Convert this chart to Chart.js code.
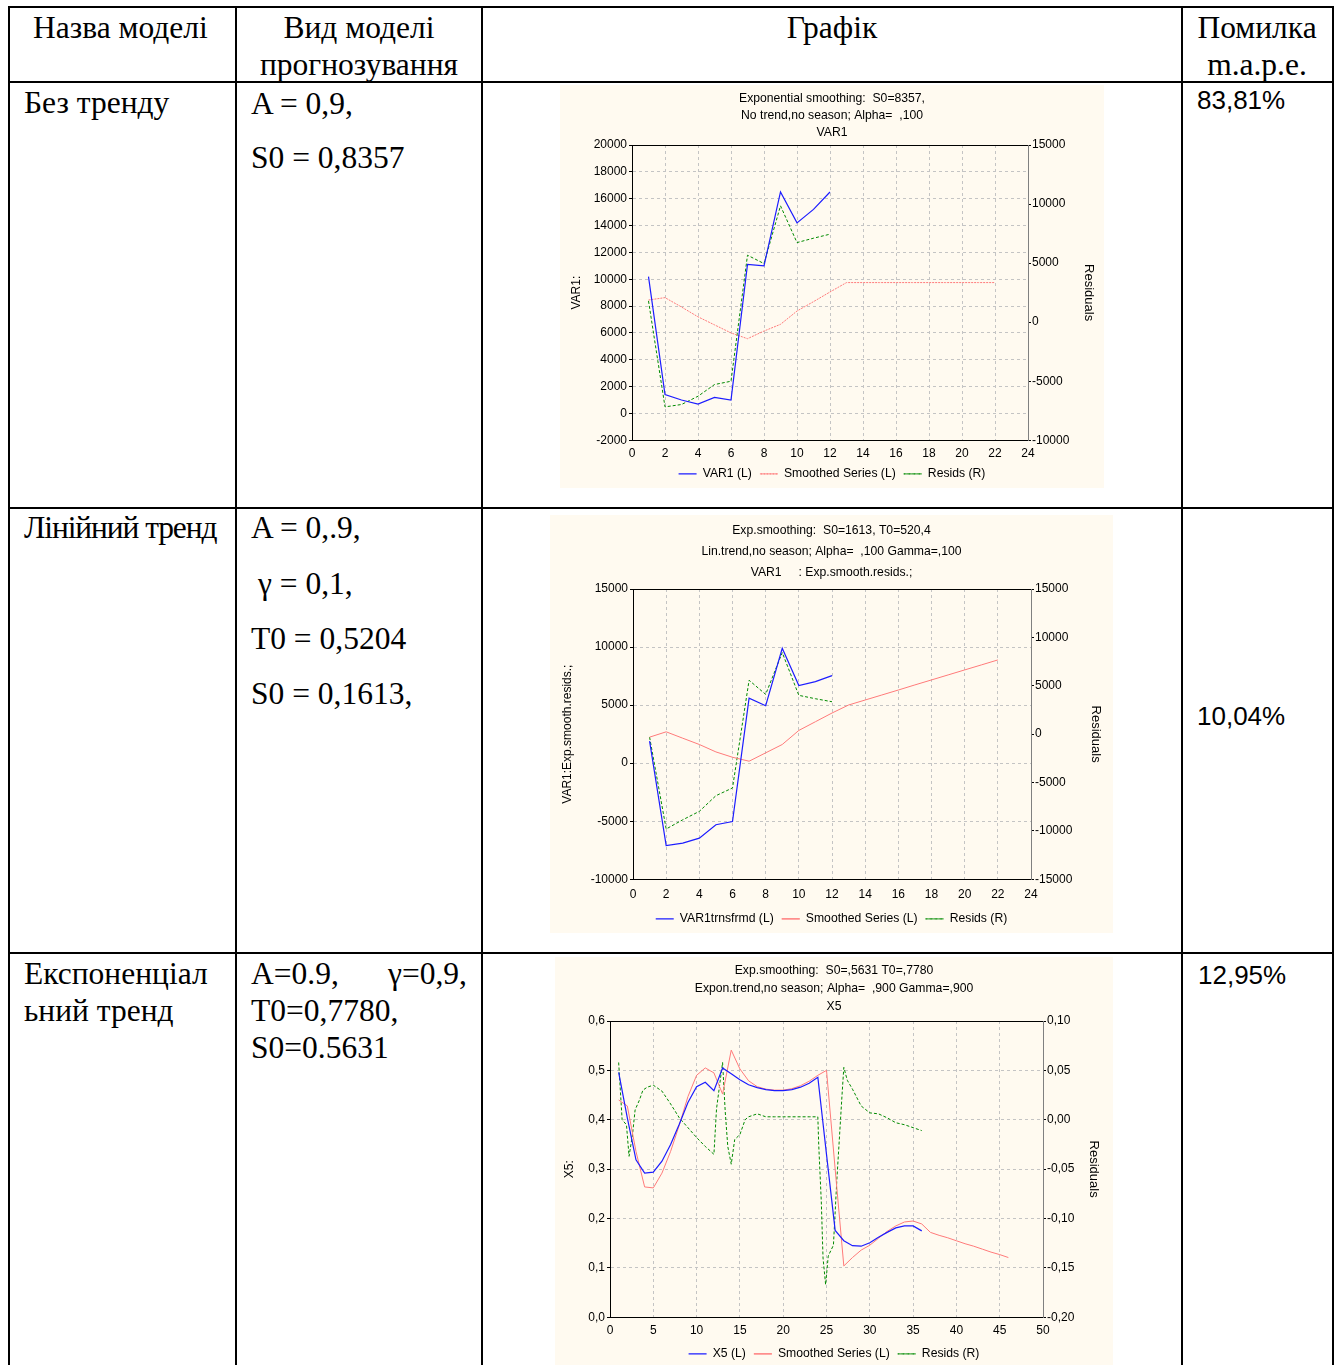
<!DOCTYPE html>
<html>
<head>
<meta charset="utf-8">
<script src="https://cdn.jsdelivr.net/npm/chart.js@4.4.1/dist/chart.umd.min.js"></script>
<style>
  html, body { margin: 0; padding: 0; background: #fff; }
  body { width: 1340px; height: 1365px; position: relative; overflow: hidden; }
  .ln { position: absolute; background: #000; }
  .t { position: absolute; font-family: "Liberation Serif", "Times New Roman", serif; font-size: 31.5px; line-height: 1; white-space: pre; color: #000; }
  .c { transform: translateX(-50%); }
  .p { position: absolute; font-family: "Liberation Sans", Arial, sans-serif; font-size: 26px; line-height: 1; color: #000; }
  .panel { position: absolute; background: #fffaf0; }
  .panel canvas { display: block; }
</style>
</head>
<body>
<!-- table grid -->
<div class="ln" style="left:8px;top:6px;width:1326px;height:2px"></div>
<div class="ln" style="left:8px;top:81px;width:1326px;height:2px"></div>
<div class="ln" style="left:8px;top:507px;width:1326px;height:2px"></div>
<div class="ln" style="left:8px;top:952px;width:1326px;height:2px"></div>
<div class="ln" style="left:8px;top:6px;width:2px;height:1370px"></div>
<div class="ln" style="left:235px;top:6px;width:2px;height:1370px"></div>
<div class="ln" style="left:481px;top:6px;width:2px;height:1370px"></div>
<div class="ln" style="left:1181px;top:6px;width:2px;height:1370px"></div>
<div class="ln" style="left:1332px;top:6px;width:2px;height:1370px"></div>

<!-- header -->
<div class="t" style="left:33px;top:11.6px">Назва моделі</div>
<div class="t c" style="left:359px;top:11.6px">Вид моделі</div>
<div class="t c" style="left:359px;top:48.6px">прогнозування</div>
<div class="t c" style="left:832px;top:11.6px">Графік</div>
<div class="t c" style="left:1257px;top:11.6px">Помилка</div>
<div class="t c" style="left:1257px;top:48.6px">m.a.p.e.</div>

<!-- row 1 -->
<div class="t" style="left:24px;top:86.6px">Без тренду</div>
<div class="t" style="left:251px;top:87.6px">A = 0,9,</div>
<div class="t" style="left:251px;top:141.6px">S0 = 0,8357</div>
<div class="p" style="left:1197px;top:87px">83,81%</div>

<!-- row 2 -->
<div class="t" style="left:24px;top:511.6px;letter-spacing:-1.1px">Лінійний тренд</div>
<div class="t" style="left:251px;top:511.6px">A = 0,.9,</div>
<div class="t" style="left:258px;top:567.6px">γ = 0,1,</div>
<div class="t" style="left:251px;top:622.6px">T0 = 0,5204</div>
<div class="t" style="left:251px;top:677.6px">S0 = 0,1613,</div>
<div class="p" style="left:1197px;top:703px">10,04%</div>

<!-- row 3 -->
<div class="t" style="left:24px;top:957.6px">Експоненціал</div>
<div class="t" style="left:24px;top:994.6px">ьний тренд</div>
<div class="t" style="left:251px;top:957.6px">A=0.9,</div>
<div class="t" style="left:388px;top:957.6px">γ=0,9,</div>
<div class="t" style="left:251px;top:994.6px">T0=0,7780,</div>
<div class="t" style="left:251px;top:1031.6px">S0=0.5631</div>
<div class="p" style="left:1198px;top:962px">12,95%</div>

<div class="panel" style="left:560px;top:85px;width:544px;height:403px"><canvas id="chart1" width="544" height="403"></canvas></div>
<div class="panel" style="left:550px;top:515px;width:563px;height:418px"><canvas id="chart2" width="563" height="418"></canvas></div>
<div class="panel" style="left:555px;top:957px;width:558px;height:411px"><canvas id="chart3" width="558" height="411"></canvas></div>

<script>
// ---- chart 1: no trend ----
const c1Steps = [1, 2, 3, 4, 5, 6, 7, 8, 9, 10, 11, 12];
const c1Var1 = [10200, 1400, 1000, 700, 1200, 1000, 11100, 11000, 16500, 14200, 15200, 16500];
const c1SmoothSteps = [1, 2, 3, 4, 5, 6, 7, 8, 9, 10, 11, 12, 13, 14, 15, 16, 17, 18, 19, 20, 21, 22];
const c1Smooth = [8450, 8630, 7930, 7200, 6600, 6000, 5570, 6140, 6640, 7630, 8330, 9050, 9750, 9750, 9750, 9750, 9750, 9750, 9750, 9750, 9750, 9750];
const c1Resid = [1800, -7170, -6970, -6270, -5280, -5000, 5670, 4960, 9850, 6740, 7110, 7450];

// ---- chart 2: linear trend ----
const c2Steps = [1, 2, 3, 4, 5, 6, 7, 8, 9, 10, 11, 12];
const c2Var1 = [1900, -7100, -6890, -6460, -5300, -5020, 5600, 4950, 9900, 6680, 7020, 7540];
const c2SmoothSteps = [1, 2, 3, 4, 5, 6, 7, 8, 9, 10, 11, 12, 13, 14, 15, 16, 17, 18, 19, 20, 21, 22];
const c2Smooth = [2240, 2700, 2150, 1610, 970, 510, 170, 890, 1610, 2820, 3570, 4320, 5010, 5440, 5870, 6300, 6740, 7170, 7600, 8030, 8460, 8890];
const c2Resid = [-310, -9800, -8850, -7980, -6360, -5560, 5570, 4110, 8430, 4010, 3660, 3350];

// ---- chart 3: exponential trend ----
const c3Steps = [1, 2, 3, 4, 5, 6, 7, 8, 9, 10, 11, 12, 13, 14, 15, 16, 17, 18, 19, 20, 21, 22, 23, 24, 25, 26, 27, 28, 29, 30, 31, 32, 33, 34, 35, 36];
const c3X5 = [0.496, 0.404, 0.319, 0.292, 0.294, 0.316, 0.350, 0.391, 0.435, 0.467, 0.476, 0.459, 0.505, 0.493, 0.481, 0.471, 0.465, 0.461, 0.459, 0.459, 0.461, 0.466, 0.474, 0.486, 0.330, 0.176, 0.155, 0.145, 0.144, 0.151, 0.162, 0.172, 0.181, 0.185, 0.185, 0.175];
const c3SmoothSteps = [1, 2, 3, 4, 5, 6, 7, 8, 9, 10, 11, 12, 13, 14, 15, 16, 17, 18, 19, 20, 21, 22, 23, 24, 25, 26, 27, 28, 29, 30, 31, 32, 33, 34, 35, 36, 37, 38, 39, 40, 41, 42, 43, 44, 45, 46];
const c3Smooth = [0.440, 0.428, 0.336, 0.264, 0.262, 0.292, 0.336, 0.389, 0.447, 0.490, 0.505, 0.495, 0.452, 0.541, 0.503, 0.479, 0.467, 0.462, 0.460, 0.460, 0.463, 0.469, 0.478, 0.490, 0.500, 0.300, 0.104, 0.121, 0.136, 0.146, 0.160, 0.174, 0.185, 0.193, 0.195, 0.189, 0.172, 0.166, 0.161, 0.155, 0.149, 0.144, 0.138, 0.132, 0.127, 0.121];
// the residual trace in the picture has its breaks between the steps, so its x positions are read too
const c3ResidSteps = [1, 1.4, 1.9, 2.2, 2.6, 2.9, 3.4, 3.8, 4.3, 5, 6, 7, 8, 9, 10, 11, 12, 12.3, 13, 13.3, 13.6, 14, 14.4, 15, 15.6, 16, 17, 18, 19, 20, 21, 22, 23, 24, 24.1, 24.4, 24.6, 24.9, 25.2, 25.8, 26.2, 26.5, 26.8, 27, 27.4, 28, 29, 30, 31, 32, 33, 34, 35, 36];
const c3Resid = [0.058, 0.000, -0.005, -0.037, -0.015, 0.010, 0.020, 0.030, 0.033, 0.035, 0.029, 0.016, 0.002, -0.008, -0.018, -0.027, -0.035, 0.011, 0.058, 0.009, -0.027, -0.045, -0.020, -0.015, 0.000, 0.003, 0.006, 0.003, 0.003, 0.003, 0.003, 0.003, 0.003, 0.003, -0.025, -0.083, -0.140, -0.167, -0.138, -0.127, -0.060, -0.017, 0.026, 0.053, 0.040, 0.031, 0.014, 0.007, 0.006, 0.002, -0.003, -0.005, -0.008, -0.011];

Chart.defaults.font.family = '"Liberation Sans", Arial, sans-serif';
Chart.defaults.color = '#000';
Chart.defaults.animation = false;

const BLUE = '#1c1cff', RED = '#ff7a7a', GREEN = '#008a00', GRID = '#c4c4c4';

function pts(xs, ys) {
    return xs.map(function(x, i) { return {x: x, y: ys[i]}; });
}

// top edge of the plot box (the library has no top border for a single x axis)
const frame = {
    id: 'frame',
    afterDraw(chart) {
        const a = chart.chartArea, ctx = chart.ctx;
        ctx.save();
        ctx.strokeStyle = '#000';
        ctx.lineWidth = 1;
        ctx.beginPath();
        ctx.moveTo(a.left, Math.round(a.top) + 0.5);
        ctx.lineTo(a.right, Math.round(a.top) + 0.5);
        ctx.stroke();
        ctx.restore();
    }
};

function makeChart(id, c) {
    const ctx = document.getElementById(id).getContext('2d');
    return new Chart(ctx, {
        type: 'line',
        data: {
            datasets: [
                {label: c.names[0], data: pts(c.steps, c.main), yAxisID: 'y',
                 borderColor: BLUE, backgroundColor: 'transparent', borderWidth: 1.2},
                {label: c.names[1], data: pts(c.smoothSteps, c.smooth), yAxisID: 'y',
                 borderColor: RED, backgroundColor: 'transparent', borderWidth: 1, borderDash: c.smoothDash},
                {label: c.names[2], data: pts(c.residSteps, c.resid), yAxisID: 'y2',
                 borderColor: GREEN, backgroundColor: 'transparent', borderWidth: 1, borderDash: [3, 2]}
            ]
        },
        options: {
            responsive: false,
            animation: false,
            elements: {point: {radius: 0}, line: {tension: 0}},
            layout: {padding: {bottom: -2}},
            plugins: {
                title: {
                    display: true, text: c.title, color: '#000',
                    font: {size: 12.2, weight: 'normal', lineHeight: c.titleLH / 12.2},
                    padding: {top: c.titlePad[0], bottom: c.titlePad[1]}
                },
                legend: {
                    position: 'bottom',
                    labels: {boxWidth: 18, boxHeight: 0, padding: 8, color: '#000', font: {size: 12.2}}
                },
                tooltip: {enabled: false}
            },
            scales: {
                x: {
                    type: 'linear', min: c.x[0], max: c.x[1],
                    ticks: {stepSize: c.x[2], padding: c.xPad, font: {size: 12}},
                    grid: {color: GRID, drawTicks: false},
                    border: {color: '#000', dash: [3, 3]},
                    afterFit: function(s) { s.height = c.xH; }
                },
                y: {
                    position: 'left', min: c.left[0], max: c.left[1],
                    ticks: {stepSize: c.left[2], padding: 2, font: {size: 12}, callback: c.fmtL},
                    grid: {color: GRID, tickColor: '#000', tickLength: 3},
                    border: {color: '#000', dash: [3, 3]},
                    title: {display: true, text: c.leftTitle, font: {size: 12}, padding: {top: c.leftTitlePad, bottom: 0}},
                    afterFit: function(s) { s.width = c.leftW; }
                },
                y2: {
                    position: 'right', min: c.right[0], max: c.right[1],
                    ticks: {stepSize: c.right[2], padding: 1, font: {size: 12}, callback: c.fmtR},
                    grid: {drawOnChartArea: false, tickColor: '#000', tickLength: 3},
                    border: {color: '#808080'},
                    title: {display: true, text: 'Residuals', font: {size: 13}, padding: {top: c.rightTitlePad, bottom: 0}},
                    afterFit: function(s) { s.width = c.rightW; }
                }
            }
        },
        plugins: [frame]
    });
}

const plain = function(v) { return String(Math.round(v)); };
const dec1 = function(v) { return v.toFixed(1).replace('.', ','); };
const dec2 = function(v) { return v.toFixed(2).replace('.', ','); };

makeChart('chart1', {
    title: ['Exponential smoothing:  S0=8357,', 'No trend,no season; Alpha=  ,100', 'VAR1'],
    titleLH: 17, titlePad: [5.5, 3.5],
    names: ['VAR1 (L)', 'Smoothed Series (L)', 'Resids (R)'],
    steps: c1Steps, main: c1Var1, smoothSteps: c1SmoothSteps, smooth: c1Smooth,
    residSteps: c1Steps, resid: c1Resid,
    smoothDash: [2, 1],
    x: [0, 24, 2], left: [-2000, 20000, 2000], right: [-10000, 15000, 5000],
    fmtL: plain, fmtR: plain,
    leftTitle: 'VAR1:', leftTitlePad: 9.4, rightTitlePad: 8,
    leftW: 72, rightW: 76, xH: 19.5, xPad: 6
});

makeChart('chart2', {
    title: ['Exp.smoothing:  S0=1613, T0=520,4', 'Lin.trend,no season; Alpha=  ,100 Gamma=,100', 'VAR1     : Exp.smooth.resids.;'],
    titleLH: 21, titlePad: [5.5, 5.5],
    names: ['VAR1trnsfrmd (L)', 'Smoothed Series (L)', 'Resids (R)'],
    steps: c2Steps, main: c2Var1, smoothSteps: c2SmoothSteps, smooth: c2Smooth,
    residSteps: c2Steps, resid: c2Resid,
    smoothDash: [],
    x: [0, 24, 2], left: [-10000, 15000, 5000], right: [-15000, 15000, 5000],
    fmtL: plain, fmtR: plain,
    leftTitle: 'VAR1:Exp.smooth.resids.;', leftTitlePad: 10.4, rightTitlePad: 10,
    leftW: 83, rightW: 82, xH: 25.5, xPad: 8
});

makeChart('chart3', {
    title: ['Exp.smoothing:  S0=,5631 T0=,7780', 'Expon.trend,no season; Alpha=  ,900 Gamma=,900', 'X5'],
    titleLH: 18, titlePad: [5, 5],
    names: ['X5 (L)', 'Smoothed Series (L)', 'Resids (R)'],
    steps: c3Steps, main: c3X5, smoothSteps: c3SmoothSteps, smooth: c3Smooth,
    residSteps: c3ResidSteps, resid: c3Resid,
    smoothDash: [],
    x: [0, 50, 5], left: [0, 0.6, 0.1], right: [-0.2, 0.1, 0.05],
    fmtL: dec1, fmtR: dec2,
    leftTitle: 'X5:', leftTitlePad: 7.4, rightTitlePad: 12,
    leftW: 55, rightW: 70, xH: 22.5, xPad: 6
});
</script>
</body>
</html>
